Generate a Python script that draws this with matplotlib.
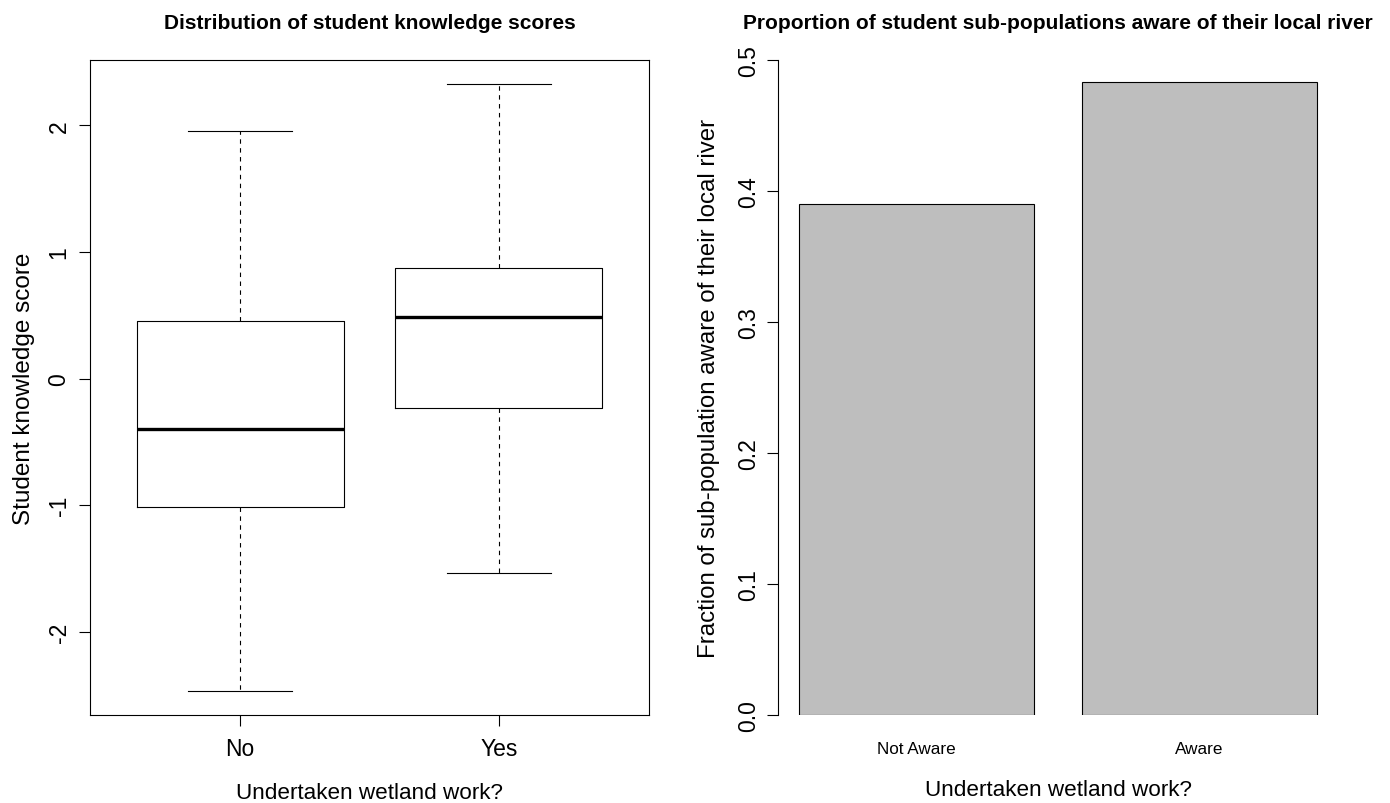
import matplotlib
matplotlib.use("Agg")
import matplotlib.pyplot as plt

plt.rcParams['font.family'] = ['Liberation Sans', 'DejaVu Sans']

# boxplot summary per group
groups = ['No', 'Yes']
whislo = [-2.466, -1.534]
q1 = [-1.012, -0.229]
med = [-0.395, 0.482]
q3 = [0.458, 0.870]
whishi = [1.953, 2.324]

# bar chart
aware_cats = ['Not Aware', 'Aware']
aware_frac = [0.390, 0.483]

W, H = 1390, 804
fig = plt.figure(figsize=(W / 100, H / 100), dpi=100)
fig.patch.set_facecolor('white')

def px_axes(x0, y0, x1, y1):
    return fig.add_axes([x0 / W, 1 - y1 / H, (x1 - x0) / W, (y1 - y0) / H])

lw = 0.8
tick_len = 8

# ---------------- left: boxplot ----------------
ax1 = px_axes(90, 61, 649, 716)
stats = []
for i in range(len(groups)):
    stats.append(dict(label=groups[i], whislo=whislo[i], q1=q1[i], med=med[i],
                      q3=q3[i], whishi=whishi[i], fliers=[]))
ax1.bxp(stats, positions=[1, 2], widths=0.8, showfliers=False,
        boxprops=dict(color='black', linewidth=lw),
        medianprops=dict(color='black', linewidth=2.4, solid_capstyle='butt'),
        whiskerprops=dict(color='black', linewidth=lw, linestyle=(0, (4, 4))),
        capprops=dict(color='black', linewidth=lw), capwidths=0.4)
ax1.set_xlim(0.42, 2.58)
ax1.set_ylim(-2.658, 2.516)
ax1.set_yticks([-2, -1, 0, 1, 2])
ax1.set_yticklabels(['-2', '-1', '0', '1', '2'])
for s in ax1.spines.values():
    s.set_linewidth(lw)
ax1.tick_params(axis='x', length=tick_len, width=lw, labelsize=16.5, pad=8)
ax1.tick_params(axis='y', length=tick_len, width=lw, labelsize=16.5, pad=6)
for lab in ax1.get_yticklabels():
    lab.set_rotation(90)
    lab.set_va('center')
ax1.set_title('Distribution of student knowledge scores', fontsize=15,
              fontweight='bold', pad=23)
ax1.set_xlabel('Undertaken wetland work?', fontsize=16.2, labelpad=16)
ax1.set_ylabel('Student knowledge score', fontsize=17.5, labelpad=9)

# ---------------- right: bar chart ----------------
ax2 = px_axes(778, 61, 1338, 716)
xpos = [0.7, 1.9]
ax2.bar(xpos, aware_frac, width=1.0, color='#bebebe', edgecolor='black', linewidth=lw)
ax2.set_xlim(0.112, 2.488)
ax2.set_ylim(0, 0.5)
ax2.set_xticks(xpos)
ax2.set_xticklabels(aware_cats, fontsize=12.3)
ax2.set_yticks([0.0, 0.1, 0.2, 0.3, 0.4, 0.5])
ax2.set_yticklabels(['0.0', '0.1', '0.2', '0.3', '0.4', '0.5'])
for side in ['top', 'right', 'bottom']:
    ax2.spines[side].set_visible(False)
ax2.spines['left'].set_linewidth(lw)
ax2.tick_params(axis='y', length=tick_len, width=lw, labelsize=16.5, pad=5)
ax2.tick_params(axis='x', length=0, pad=19)
for lab in ax2.get_yticklabels():
    lab.set_rotation(90)
    lab.set_va('center')
ax2.set_title('Proportion of student sub-populations aware of their local river',
              fontsize=15, fontweight='bold', pad=23)
ax2.set_xlabel('Undertaken wetland work?', fontsize=16.2, labelpad=16)
ax2.set_ylabel('Fraction of sub-population aware of their local river', fontsize=17.3,
               labelpad=12)

fig.savefig('out.png', dpi=100)
